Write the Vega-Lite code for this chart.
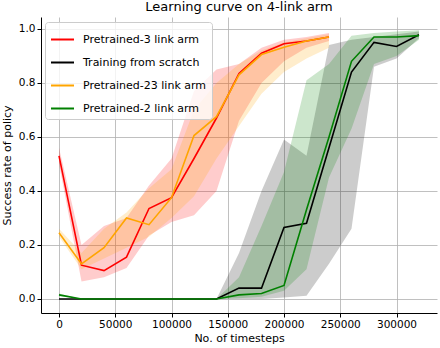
{
  "$schema": "https://vega.github.io/schema/vega-lite/v6.json",
  "width": 396,
  "height": 296,
  "autosize": {"type": "none"},
  "padding": {"left": 41, "top": 17, "right": 3, "bottom": 35},
  "background": "white",
  "title": {"text": "Learning curve on 4-link arm", "fontSize": 13, "fontWeight": "normal", "font": "DejaVu Sans", "color": "#000000", "offset": 3, "anchor": "middle"},
  "data": {"values": [
    {"s": "Pretrained-3 link arm", "x": 0, "y": 0.53, "lo": 0.50, "hi": 0.56},
    {"s": "Pretrained-3 link arm", "x": 20000, "y": 0.125, "lo": 0.065, "hi": 0.20},
    {"s": "Pretrained-3 link arm", "x": 40000, "y": 0.105, "lo": 0.08, "hi": 0.27},
    {"s": "Pretrained-3 link arm", "x": 60000, "y": 0.155, "lo": 0.115, "hi": 0.30},
    {"s": "Pretrained-3 link arm", "x": 80000, "y": 0.335, "lo": 0.235, "hi": 0.42},
    {"s": "Pretrained-3 link arm", "x": 100000, "y": 0.375, "lo": 0.285, "hi": 0.52},
    {"s": "Pretrained-3 link arm", "x": 120000, "y": 0.52, "lo": 0.31, "hi": 0.77},
    {"s": "Pretrained-3 link arm", "x": 140000, "y": 0.67, "lo": 0.40, "hi": 0.85},
    {"s": "Pretrained-3 link arm", "x": 160000, "y": 0.835, "lo": 0.66, "hi": 0.87},
    {"s": "Pretrained-3 link arm", "x": 180000, "y": 0.91, "lo": 0.80, "hi": 0.93},
    {"s": "Pretrained-3 link arm", "x": 200000, "y": 0.945, "lo": 0.88, "hi": 0.96},
    {"s": "Pretrained-3 link arm", "x": 220000, "y": 0.955, "lo": 0.93, "hi": 0.97},
    {"s": "Pretrained-3 link arm", "x": 240000, "y": 0.97, "lo": 0.955, "hi": 0.985},
    {"s": "Training from scratch", "x": 0, "y": 0, "lo": 0, "hi": 0},
    {"s": "Training from scratch", "x": 20000, "y": 0, "lo": 0, "hi": 0},
    {"s": "Training from scratch", "x": 40000, "y": 0, "lo": 0, "hi": 0},
    {"s": "Training from scratch", "x": 60000, "y": 0, "lo": 0, "hi": 0},
    {"s": "Training from scratch", "x": 80000, "y": 0, "lo": 0, "hi": 0},
    {"s": "Training from scratch", "x": 100000, "y": 0, "lo": 0, "hi": 0},
    {"s": "Training from scratch", "x": 120000, "y": 0, "lo": 0, "hi": 0},
    {"s": "Training from scratch", "x": 140000, "y": 0, "lo": 0, "hi": 0},
    {"s": "Training from scratch", "x": 160000, "y": 0.04, "lo": 0.0, "hi": 0.17},
    {"s": "Training from scratch", "x": 180000, "y": 0.04, "lo": 0.0, "hi": 0.40},
    {"s": "Training from scratch", "x": 200000, "y": 0.265, "lo": 0.005, "hi": 0.59},
    {"s": "Training from scratch", "x": 220000, "y": 0.28, "lo": 0.012, "hi": 0.53},
    {"s": "Training from scratch", "x": 240000, "y": 0.56, "lo": 0.13, "hi": 0.94},
    {"s": "Training from scratch", "x": 260000, "y": 0.84, "lo": 0.26, "hi": 0.96},
    {"s": "Training from scratch", "x": 280000, "y": 0.95, "lo": 0.86, "hi": 0.97},
    {"s": "Training from scratch", "x": 300000, "y": 0.935, "lo": 0.89, "hi": 0.98},
    {"s": "Training from scratch", "x": 320000, "y": 0.978, "lo": 0.965, "hi": 0.99},
    {"s": "Pretrained-23 link arm", "x": 0, "y": 0.245, "lo": 0.23, "hi": 0.26},
    {"s": "Pretrained-23 link arm", "x": 20000, "y": 0.13, "lo": 0.11, "hi": 0.17},
    {"s": "Pretrained-23 link arm", "x": 40000, "y": 0.19, "lo": 0.15, "hi": 0.26},
    {"s": "Pretrained-23 link arm", "x": 60000, "y": 0.30, "lo": 0.19, "hi": 0.32},
    {"s": "Pretrained-23 link arm", "x": 80000, "y": 0.275, "lo": 0.23, "hi": 0.41},
    {"s": "Pretrained-23 link arm", "x": 100000, "y": 0.375, "lo": 0.30, "hi": 0.48},
    {"s": "Pretrained-23 link arm", "x": 120000, "y": 0.605, "lo": 0.38, "hi": 0.70},
    {"s": "Pretrained-23 link arm", "x": 140000, "y": 0.675, "lo": 0.52, "hi": 0.80},
    {"s": "Pretrained-23 link arm", "x": 160000, "y": 0.83, "lo": 0.64, "hi": 0.87},
    {"s": "Pretrained-23 link arm", "x": 180000, "y": 0.905, "lo": 0.76, "hi": 0.92},
    {"s": "Pretrained-23 link arm", "x": 200000, "y": 0.932, "lo": 0.84, "hi": 0.95},
    {"s": "Pretrained-23 link arm", "x": 220000, "y": 0.955, "lo": 0.89, "hi": 0.965},
    {"s": "Pretrained-23 link arm", "x": 240000, "y": 0.97, "lo": 0.93, "hi": 0.98},
    {"s": "Pretrained-2 link arm", "x": 0, "y": 0.015, "lo": 0.01, "hi": 0.02},
    {"s": "Pretrained-2 link arm", "x": 20000, "y": 0, "lo": 0, "hi": 0},
    {"s": "Pretrained-2 link arm", "x": 40000, "y": 0, "lo": 0, "hi": 0},
    {"s": "Pretrained-2 link arm", "x": 60000, "y": 0, "lo": 0, "hi": 0},
    {"s": "Pretrained-2 link arm", "x": 80000, "y": 0, "lo": 0, "hi": 0},
    {"s": "Pretrained-2 link arm", "x": 100000, "y": 0, "lo": 0, "hi": 0},
    {"s": "Pretrained-2 link arm", "x": 120000, "y": 0, "lo": 0, "hi": 0},
    {"s": "Pretrained-2 link arm", "x": 140000, "y": 0, "lo": 0, "hi": 0},
    {"s": "Pretrained-2 link arm", "x": 160000, "y": 0.015, "lo": 0.003, "hi": 0.08},
    {"s": "Pretrained-2 link arm", "x": 180000, "y": 0.02, "lo": 0.008, "hi": 0.27},
    {"s": "Pretrained-2 link arm", "x": 200000, "y": 0.05, "lo": 0.03, "hi": 0.47},
    {"s": "Pretrained-2 link arm", "x": 220000, "y": 0.33, "lo": 0.11, "hi": 0.81},
    {"s": "Pretrained-2 link arm", "x": 240000, "y": 0.60, "lo": 0.45, "hi": 0.87},
    {"s": "Pretrained-2 link arm", "x": 260000, "y": 0.88, "lo": 0.63, "hi": 0.975},
    {"s": "Pretrained-2 link arm", "x": 280000, "y": 0.97, "lo": 0.87, "hi": 0.985},
    {"s": "Pretrained-2 link arm", "x": 300000, "y": 0.97, "lo": 0.90, "hi": 0.99},
    {"s": "Pretrained-2 link arm", "x": 320000, "y": 0.975, "lo": 0.96, "hi": 0.995}
  ]},
  "encoding": {
    "x": {"field": "x", "type": "quantitative", "title": "No. of timesteps",
      "scale": {"domain": [-16000, 336000], "nice": false, "zero": false},
      "axis": {"values": [0, 50000, 100000, 150000, 200000, 250000, 300000], "format": "d", "labelFlush": false, "titlePadding": 3}},
    "color": {"field": "s", "type": "nominal", "title": null,
      "scale": {"domain": ["Pretrained-3 link arm", "Training from scratch", "Pretrained-23 link arm", "Pretrained-2 link arm"], "range": ["#ff0000", "#000000", "#ffa500", "#008000"]},
      "legend": {"orient": "none", "legendX": 4, "legendY": 5, "symbolType": "stroke", "symbolSize": 529, "symbolStrokeWidth": 2, "symbolOpacity": 1, "labelFontSize": 11, "labelFont": "DejaVu Sans", "labelColor": "#000000", "labelOffset": 8, "rowPadding": 5, "padding": 5, "strokeColor": "#cccccc", "fillColor": "rgba(255,255,255,0.8)", "cornerRadius": 3}}
  },
  "layer": [
    {"mark": {"type": "area", "opacity": 0.2},
     "encoding": {
       "y": {"field": "lo", "type": "quantitative", "title": "Success rate of policy",
         "scale": {"domain": [-0.052, 1.044], "nice": false, "zero": false},
         "axis": {"values": [0, 0.2, 0.4, 0.6, 0.8, 1.0], "format": ".1f", "titlePadding": 6}},
       "y2": {"field": "hi"}
     }},
    {"mark": {"type": "line", "strokeWidth": 1.6},
     "encoding": {
       "y": {"field": "y", "type": "quantitative"}
     }}
  ],
  "config": {
    "view": {"stroke": null},
    "font": "DejaVu Sans",
    "axis": {"grid": true, "gridColor": "#b0b0b0", "gridWidth": 0.8, "domainColor": "#000000", "domainWidth": 1, "tickColor": "#000000", "tickSize": 4, "labelPadding": 2, "labelFontSize": 10.5, "labelColor": "#000000", "labelFont": "DejaVu Sans", "titleFont": "DejaVu Sans", "titleFontSize": 11, "titleFontWeight": "normal", "titleColor": "#000000"}
  }
}
